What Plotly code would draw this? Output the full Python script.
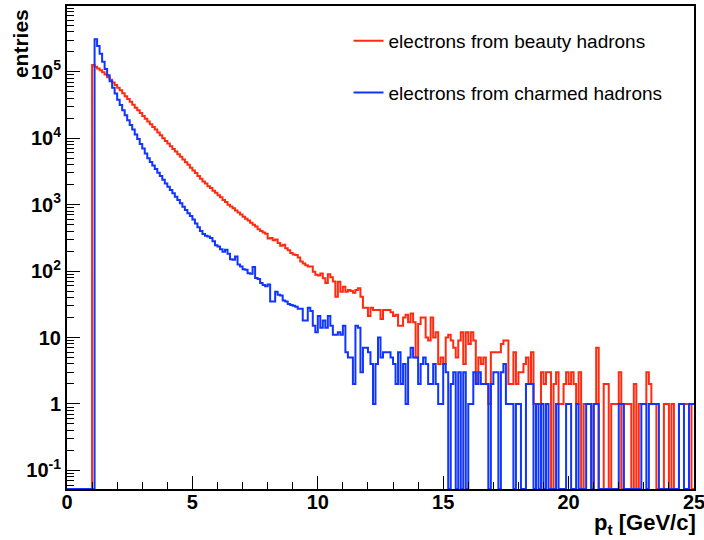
import plotly.graph_objects as go

# ---------------- data (histogram, 250 bins of 0.1 GeV/c from 0 to 25) ----------------
BIN_WIDTH = 0.1
N_BINS = 250

beauty_counts = [
    0, 0, 0, 0, 0, 0, 0, 0, 0, 0,
    126000, 119000, 112000, 105000, 98000, 91000, 83000, 76000, 69000, 63000,
    57500, 52500, 47300, 42700, 38900, 35500, 32000, 28800, 26300, 24000,
    21600, 19700, 17800, 16200, 14800, 13500, 12200, 11100, 10000, 9100,
    8300, 7600, 6900, 6300, 5750, 5250, 4800, 4350, 4000, 3600,
    3270, 2990, 2700, 2450, 2240, 2090, 1900, 1780, 1620, 1510,
    1380, 1290, 1175, 1100, 1000, 935, 880, 815, 760, 710,
    655, 615, 575, 535, 500, 470, 425, 400, 380, 365,
    310, 315, 290, 300, 265, 240, 250, 220, 205, 187,
    178, 174, 160, 140, 130, 122, 117, 117, 98, 88,
    86, 92, 78, 66, 90, 81, 70, 41, 69, 49,
    58, 49, 52, 50, 47, 52, 55, 41, 28, 28,
    21, 28, 26, 26, 26, 19, 26, 26, 26, 24,
    21, 22, 15, 15, 20, 22, 17, 23, 17, 5,
    16, 20, 20, 10, 9, 20, 10, 12, 4, 5,
    4, 10, 11, 9, 7, 5, 9, 12, 4, 12,
    8, 12, 9, 2, 5, 4, 5, 2, 1, 6,
    6, 6, 6, 8, 9, 9, 2, 2, 6, 2,
    3, 3, 4, 5, 2, 6, 1, 1, 1, 3,
    2, 3, 3, 0, 2, 3, 1, 1, 2, 3,
    2, 3, 2, 1, 3, 0, 1, 1, 1, 0,
    1, 7, 0, 0, 2, 2, 0, 1, 1, 1,
    3, 0, 1, 1, 1, 0, 2, 0, 1, 1,
    1, 3, 2, 1, 1, 0, 0, 0, 1, 1,
    0, 1, 0, 0, 1, 1, 1, 1, 1, 0,
]

charm_counts = [
    0, 0, 0, 0, 0, 0, 0, 0, 0, 0,
    0, 310000, 245000, 186000, 141000, 110000, 89000, 72000, 57500, 47000,
    38000, 31600, 26300, 22100, 18600, 15800, 13500, 11400, 9700, 8200,
    7000, 5900, 5000, 4400, 3900, 3430, 3020, 2690, 2370, 2090,
    1860, 1660, 1480, 1320, 1175, 1050, 930, 830, 740, 675,
    600, 520, 457, 400, 363, 339, 331, 316, 282, 245,
    234, 214, 195, 209, 182, 151, 148, 166, 126, 117,
    107, 105, 93, 91, 115, 79, 76, 66, 62, 59,
    63, 35, 35, 49, 44, 43, 36, 35, 32, 31,
    30, 29, 27, 27, 18, 18, 28, 25, 15, 12,
    21, 14, 18, 14, 21, 15, 11, 11, 12, 11,
    15, 6, 5, 5, 2, 15, 14, 3, 7, 7,
    6, 4, 1, 4, 10, 5, 6, 6, 6, 5,
    4, 2, 6, 2, 4, 1, 5, 7, 5, 5,
    2, 4, 5, 4, 2, 2, 4, 2, 1, 1,
    4, 3, 0, 2, 3, 0, 3, 0, 3, 0,
    1, 1, 3, 2, 3, 2, 2, 2, 0, 2,
    3, 3, 0, 3, 4, 1, 1, 1, 0, 1,
    1, 0, 0, 2, 2, 2, 0, 1, 0, 1,
    0, 1, 0, 0, 0, 1, 0, 0, 0, 1,
    1, 0, 0, 1, 0, 0, 0, 1, 1, 0,
    1, 1, 0, 0, 0, 0, 0, 0, 0, 0,
    1, 1, 0, 0, 0, 0, 0, 0, 0, 1,
    1, 0, 1, 1, 1, 1, 0, 0, 0, 0,
    0, 0, 0, 0, 1, 1, 0, 0, 1, 1,
]

series_names = ["electrons from beauty hadrons", "electrons from charmed hadrons"]
series_colors = ["#ff2a10", "#1035ff"]

x_tick_vals = [0, 5, 10, 15, 20, 25]
x_tick_text = ["0", "5", "10", "15", "20", "25"]
y_tick_vals = [0.1, 1, 10, 100, 1000, 10000, 100000]
y_tick_text = ["10<sup>-1</sup>", "1", "10", "10<sup>2</sup>", "10<sup>3</sup>",
               "10<sup>4</sup>", "10<sup>5</sup>"]

Y_LOG_MIN = -1.28
Y_LOG_MAX = 5.99

# ---------------- figure ----------------
edges = [round(i * BIN_WIDTH, 3) for i in range(N_BINS + 1)]
floor_val = 10 ** Y_LOG_MIN   # empty bins drawn on the frame bottom (ROOT style)


def step_y(counts):
    ys = [c if c > 0 else floor_val for c in counts]
    return ys + [ys[-1]]


fig = go.Figure()
for name, counts, color, grp in zip(series_names, [beauty_counts, charm_counts],
                                    series_colors, ["b", "c"]):
    fig.add_trace(go.Scatter(
        x=edges, y=step_y(counts), mode="lines", name=name,
        line=dict(color=color, width=2, shape="hv"),
        legendgroup=grp, hoverinfo="skip",
    ))

minor_y = [m * 10 ** e for e in range(-2, 6) for m in range(2, 10)]

FONT = "Liberation Sans, Arial, Helvetica, sans-serif"

fig.update_layout(
    width=704, height=540,
    margin=dict(l=67, r=10, t=6, b=51, autoexpand=False),
    paper_bgcolor="white", plot_bgcolor="white",
    font=dict(family=FONT, color="black"),
    showlegend=True,
    legend=dict(
        x=0.449, y=0.967, xanchor="left", yanchor="top",
        bgcolor="rgba(0,0,0,0)", borderwidth=0,
        font=dict(family=FONT, size=19, color="black"),
        tracegroupgap=24, traceorder="grouped",
    ),
    xaxis=dict(
        range=[0, 25], showgrid=False, zeroline=False,
        showline=True, linecolor="black", linewidth=2, mirror=True,
        ticks="inside", ticklen=13, tickwidth=1, tickcolor="black",
        tickvals=x_tick_vals, ticktext=x_tick_text,
        ticklabeloverflow="allow", ticklabelstandoff=-6,
        tickfont=dict(family=FONT, size=20, weight="bold", color="black"),
        minor=dict(ticks="inside", ticklen=7, dtick=1, tickcolor="black", showgrid=False),
    ),
    yaxis=dict(
        type="log", range=[Y_LOG_MIN, Y_LOG_MAX], showgrid=False, zeroline=False,
        showline=True, linecolor="black", linewidth=2, mirror=True,
        ticks="inside", ticklen=13, tickwidth=1, tickcolor="black",
        tickvals=y_tick_vals, ticktext=y_tick_text,
        tickfont=dict(family=FONT, size=20, weight="bold", color="black"),
        minor=dict(ticks="inside", ticklen=7, tickvals=minor_y, tickcolor="black", showgrid=False),
    ),
    annotations=[
        dict(text="<b>entries</b>", textangle=-90, xref="paper", yref="paper",
             x=-0.074, y=0.998, xanchor="center", yanchor="top", showarrow=False,
             font=dict(family=FONT, size=21, color="black")),
        dict(text="<b>p<sub>t</sub> [GeV/c]</b>", xref="paper", yref="paper",
             x=1.0, y=0, xanchor="right", yanchor="top", yshift=-19, xshift=4,
             showarrow=False, font=dict(family=FONT, size=22, color="black")),
    ],
)

fig.write_html("out.html")
